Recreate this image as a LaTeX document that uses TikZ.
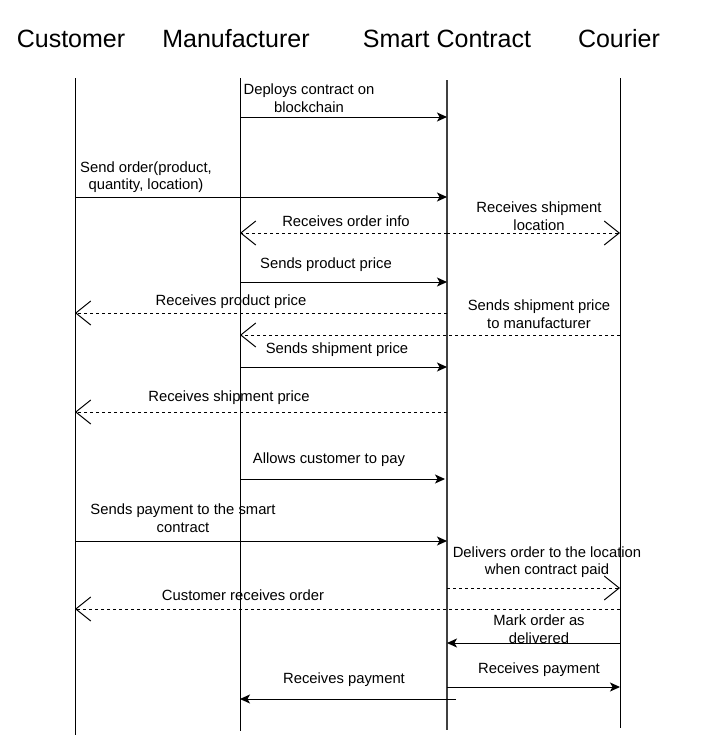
\documentclass[tikz,border=0pt]{standalone}
\usepackage{fontspec}
\setmainfont{Liberation Sans}
\usetikzlibrary{arrows.meta, calc}

\begin{document}
\begin{tikzpicture}[x = 1pt, y = -1pt,
    lifeline/.style = {line width = 1pt, black},
    msg/.style = {line width = 1pt, -{Stealth[length = 10pt, width = 9pt, inset = 2.5pt]}},
    reply/.style = {line width = 1pt, dash pattern = on 3pt off 3pt,
        -{Straight Barb[length = 15pt, width = 24pt, line width = 1pt]}},
    lbl/.style = {align = center, inner sep = 0pt, font = \fontsize{14.8}{17.5}\selectfont},
    head/.style = {inner sep = 0pt, font = \fontsize{25}{29}\selectfont}]

    \useasboundingbox (0, 0) rectangle (714, 747);

    % \def \len {655};

    \node[head] (cust) at (71, 39) {Customer};
    \node[head] (manu) at (236, 39) {Manufacturer};
    \node[head] (sc) at (447, 39) {Smart Contract};
    \node[head] (cour) at (619, 39) {Courier};

    \coordinate (c) at (75, 78);
    \coordinate (m) at (240, 78);
    \coordinate (s) at (447, 80);
    \coordinate (k) at (620, 78);

    \draw[lifeline] (c) -- ++(0, 657);
    \draw[lifeline] (m) -- ++(0, 653);
    \draw[lifeline, line width = 1.5pt, black!75] (s) -- ++(0, 650);
    \draw[lifeline] (k) -- ++(0, 650);

    \draw[msg] (m |- 0, 117) -- (s |- 0, 117);
    \node[lbl] (deploy) at (309, 98) {Deploys contract on\\blockchain};

    \draw[msg] (c |- 0, 197) -- (s |- 0, 197);
    \node[lbl] (order) at (146, 177) {Send order(product,\\quantity, location)};

    \draw[reply] (s |- 0, 233) -- (m |- 0, 233);
    \node[lbl] (info) at (346, 221) {Receives order info};
    \draw[reply] (s |- 0, 233) -- (k |- 0, 233);
    \node[lbl] (loc) at (539, 216) {Receives shipment\\location};

    \draw[msg] (m |- 0, 282) -- (s |- 0, 282);
    \node[lbl] (pprice) at (326, 265) {Sends product price};

    \draw[reply] (s |- 0, 313) -- (c |- 0, 313);
    \node[lbl] (rpprice) at (231, 302) {Receives product price};

    \draw[reply] (k |- 0, 335) -- (m |- 0, 335);
    \node[lbl] (sprice) at (539, 314) {Sends shipment price\\to manufacturer};

    \draw[msg] (m |- 0, 367) -- (s |- 0, 367);
    \node[lbl] (sprice2) at (337, 350) {Sends shipment price};

    \draw[reply] (s |- 0, 412) -- (c |- 0, 412);
    \node[lbl] (rsprice) at (229, 398) {Receives shipment price};

    \draw[msg] (m |- 0, 479) -- ($(s |- 0, 479) + (-2, 0)$);
    \node[lbl] (allow) at (329, 460) {Allows customer to pay};

    \draw[msg] (c |- 0, 541) -- (s |- 0, 541);
    \node[lbl] (pay) at (183, 518) {Sends payment to the smart\\contract};

    \draw[reply] (s |- 0, 588) -- (k |- 0, 588);
    \node[lbl] (deliver) at (547, 562) {Delivers order to the location\\when contract paid};

    \draw[reply] (k |- 0, 609) -- (c |- 0, 609);
    \node[lbl] (recv) at (243, 595) {Customer receives order};

    \draw[msg] (k |- 0, 643) -- (s |- 0, 643);
    \node[lbl] (mark) at (539, 629) {Mark order as\\delivered};

    \draw[msg] (s |- 0, 687) -- (k |- 0, 687);
    \node[lbl] (paid) at (539, 670) {Receives payment};

    \draw[msg] ($(s |- 0, 699) + (9, 0)$) -- (m |- 0, 699);
    \node[lbl] (paid2) at (344, 680) {Receives payment};

\end{tikzpicture}
\end{document}
